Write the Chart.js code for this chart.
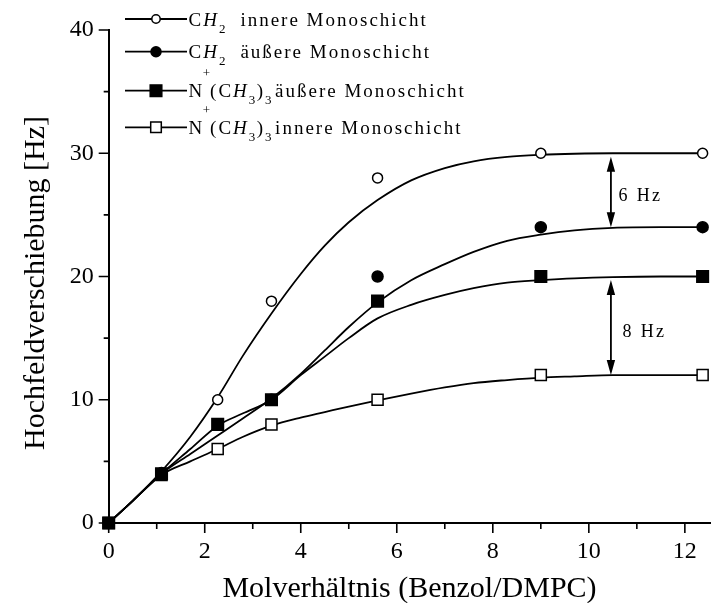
<!DOCTYPE html>
<html>
<head>
<meta charset="utf-8">
<script src="https://cdn.jsdelivr.net/npm/chart.js@4/dist/chart.umd.min.js"></script>
<style>
  html, body { margin: 0; padding: 0; background: #fff; }
  #wrap { width: 720px; height: 603px; }
</style>
</head>
<body>
<div id="wrap"><canvas id="c" width="720" height="603"></canvas></div>
<script>
// Measured shifts (Hz) against the benzene/DMPC molar ratio
const ratioMeasured = [0, 1.1, 2.27, 3.39, 5.6, 9.0, 12.37];
const ch2Inner  = [0, 4.1, 10, 18, 28, 30, 30];
const ch2Outer  = [0, 4.0, null, 10, 20, 24, 24];
const headOuter = [0, 4.0, 8, 10, 18, 20, 20];
const headInner = [0, 3.9, 6, 8, 10, 12, 12];

// Fitted saturation curves
const ratioFit     = [0, 0.5, 1.1, 1.7, 2.27, 2.8, 3.39, 4.0, 4.5, 5.0, 5.6, 6.3, 7.0, 7.6, 8.3, 9.0, 9.7, 10.5, 11.5, 12.37];
const ch2InnerFit  = [0, 1.8, 4.2, 7.0, 10.2, 13.6, 17.0, 20.2, 22.5, 24.4, 26.2, 27.8, 28.8, 29.35, 29.7, 29.87, 29.96, 30, 30, 30];
const ch2OuterFit  = [0, 1.8, 4.0, 5.6, 7.1, 8.5, 10.1, 12.1, 14.0, 15.9, 17.9, 19.7, 21.0, 22.0, 22.9, 23.4, 23.75, 23.95, 24, 24];
const headOuterFit = [0, 1.8, 4.0, 6.0, 7.9, 8.9, 10.0, 12.0, 13.5, 15.0, 16.6, 17.7, 18.5, 19.05, 19.5, 19.7, 19.85, 19.95, 20, 20];
const headInnerFit = [0, 1.8, 3.9, 5.0, 6.0, 7.0, 7.9, 8.55, 9.0, 9.45, 9.95, 10.5, 11.0, 11.35, 11.6, 11.8, 11.9, 12, 12, 12];

// Axis ticks
const xMajorTicks = [0, 2, 4, 6, 8, 10, 12];
const xMinorTicks = [1, 3, 5, 7, 9, 11];
const yMajorTicks = [0, 10, 20, 30, 40];
const yMinorTicks = [5, 15, 25, 35];

// Difference markers between the plateaus
const gapX      = [10.46, 10.46];
const gapFrom   = [30, 20];
const gapTo     = [24, 12];
const gapLabels = ['6 Hz', '8 Hz'];

const SERIF = "'Liberation Serif', 'Times New Roman', Times, serif";

const pts = (xs, ys) => xs.map((x, i) => ({ x, y: ys[i] })).filter(p => p.y !== null);

function pointSet(label, ys, style, radius, filled) {
  return {
    label,
    data: pts(ratioMeasured, ys),
    showLine: false,
    pointStyle: style,
    pointRadius: radius,
    pointHoverRadius: radius,
    pointBorderWidth: 1.5,
    pointBorderColor: '#000',
    pointBackgroundColor: filled ? '#000' : '#fff',
    clip: false
  };
}
function fitSet(label, ys) {
  return {
    label,
    data: pts(ratioFit, ys),
    showLine: true,
    borderColor: '#000',
    borderWidth: 1.8,
    pointRadius: 0,
    cubicInterpolationMode: 'monotone',
    fill: false
  };
}

// Draws text one glyph at a time with extra tracking
function drawTracked(ctx, text, x, y, spacing) {
  for (const ch of text) {
    ctx.fillText(ch, x, y);
    x += ctx.measureText(ch).width + spacing;
  }
  return x;
}

// Rich text runs: {t, it, sub, sup, gap}
function drawRuns(ctx, runs, x, y) {
  const base = 19, small = 13, track = 2;
  for (const r of runs) {
    const size = (r.sub || r.sup) ? small : base;
    ctx.font = (r.it ? 'italic ' : '') + size + 'px ' + SERIF;
    const dy = r.sub ? 7 : (r.sup ? -20 : 0);
    x = drawTracked(ctx, r.t, x, y + dy, r.sub || r.sup ? 0.5 : track);
    if (r.gap) x += r.gap;
  }
}

const legendRows = [
  { marker: 'circle', filled: false, runs: [{ t: 'C' }, { t: 'H', it: true }, { t: '2', sub: true, gap: 1 }, { t: '  innere Monoschicht' }] },
  { marker: 'circle', filled: true,  runs: [{ t: 'C' }, { t: 'H', it: true }, { t: '2', sub: true, gap: 1 }, { t: '  äußere Monoschicht' }] },
  { marker: 'rect',   filled: true,  runs: [{ t: 'N', gap: -1.5 }, { t: '+', sup: true, gap: -0.5 }, { t: '(C' }, { t: 'H', it: true }, { t: '3', sub: true, gap: 1 }, { t: ')' }, { t: '3', sub: true, gap: 3 }, { t: 'äußere Monoschicht' }] },
  { marker: 'rect',   filled: false, runs: [{ t: 'N', gap: -1.5 }, { t: '+', sup: true, gap: -0.5 }, { t: '(C' }, { t: 'H', it: true }, { t: '3', sub: true, gap: 1 }, { t: ')' }, { t: '3', sub: true, gap: 3 }, { t: 'innere Monoschicht' }] }
];
const legendRowY = [19, 51.7, 90.7, 127.3];

const decorations = {
  id: 'decorations',
  afterDraw(chart) {
    const { ctx, chartArea } = chart;
    const xs = chart.scales.x, ys = chart.scales.y;
    ctx.save();
    ctx.strokeStyle = '#000';
    ctx.fillStyle = '#000';

    // tick marks (outward)
    ctx.lineWidth = 1.6;
    ctx.beginPath();
    const bottom = chartArea.bottom, left = chartArea.left;
    xMajorTicks.forEach(v => { const p = xs.getPixelForValue(v); ctx.moveTo(p, bottom); ctx.lineTo(p, bottom + 10); });
    xMinorTicks.forEach(v => { const p = xs.getPixelForValue(v); ctx.moveTo(p, bottom); ctx.lineTo(p, bottom + 6); });
    yMajorTicks.forEach(v => { const p = ys.getPixelForValue(v); ctx.moveTo(left, p); ctx.lineTo(left - 10, p); });
    yMinorTicks.forEach(v => { const p = ys.getPixelForValue(v); ctx.moveTo(left, p); ctx.lineTo(left - 5, p); });
    ctx.stroke();

    // axis titles
    ctx.font = '30px ' + SERIF;
    ctx.textAlign = 'center';
    ctx.textBaseline = 'alphabetic';
    ctx.fillText('Molverhältnis (Benzol/DMPC)', (chartArea.left + chartArea.right) / 2, 596.5);
    ctx.save();
    ctx.translate(43.5, 283);
    ctx.rotate(-Math.PI / 2);
    ctx.fillText('Hochfeldverschiebung [Hz]', 0, 0);
    ctx.restore();

    // double-headed difference arrows
    const labelDx = [7.5, 11.5];
    ctx.textAlign = 'left';
    for (let i = 0; i < gapX.length; i++) {
      const px = xs.getPixelForValue(gapX[i]);
      const yTop = ys.getPixelForValue(gapFrom[i]) + 3.5;
      const yBot = ys.getPixelForValue(gapTo[i]);
      const head = 15, half = 4.2;
      ctx.lineWidth = 1.8;
      ctx.beginPath();
      ctx.moveTo(px, yTop + head - 2);
      ctx.lineTo(px, yBot - head + 2);
      ctx.stroke();
      ctx.beginPath();
      ctx.moveTo(px, yTop); ctx.lineTo(px - half, yTop + head); ctx.lineTo(px + half, yTop + head); ctx.closePath();
      ctx.moveTo(px, yBot); ctx.lineTo(px - half, yBot - head); ctx.lineTo(px + half, yBot - head); ctx.closePath();
      ctx.fill();
      const mid = ys.getPixelForValue((gapFrom[i] + gapTo[i]) / 2);
      ctx.font = '18px ' + SERIF;
      drawTracked(ctx, gapLabels[i], px + labelDx[i], mid + 11, 2.4);
    }

    // legend
    ctx.textAlign = 'left';
    legendRows.forEach((row, i) => {
      const y = legendRowY[i];
      ctx.lineWidth = 1.8;
      ctx.beginPath();
      ctx.moveTo(125, y); ctx.lineTo(187, y);
      ctx.stroke();
      ctx.lineWidth = 1.5;
      ctx.fillStyle = row.filled ? '#000' : '#fff';
      ctx.beginPath();
      if (row.marker === 'circle') {
        ctx.arc(156, y, row.filled ? 5 : 4.2, 0, Math.PI * 2);
      } else {
        const s = row.filled ? 5.8 : 5.3;
        ctx.rect(156 - s, y - s, 2 * s, 2 * s);
      }
      ctx.fill();
      ctx.stroke();
      ctx.fillStyle = '#000';
      drawRuns(ctx, row.runs, 188.5, y + 6.5);
    });
    ctx.restore();
  }
};

new Chart(document.getElementById('c'), {
  type: 'scatter',
  data: {
    datasets: [
      pointSet('N+(CH3)3 äußere Monoschicht', headOuter, 'rect', 8.2, true),
      pointSet('CH2 äußere Monoschicht', ch2Outer, 'circle', 5.5, true),
      pointSet('N+(CH3)3 innere Monoschicht', headInner, 'rect', 7.8, false),
      pointSet('CH2 innere Monoschicht', ch2Inner, 'circle', 5, false),
      fitSet('CH2 innere Fit', ch2InnerFit),
      fitSet('CH2 äußere Fit', ch2OuterFit),
      fitSet('N+(CH3)3 äußere Fit', headOuterFit),
      fitSet('N+(CH3)3 innere Fit', headInnerFit)
    ]
  },
  options: {
    responsive: false,
    animation: false,
    devicePixelRatio: 1,
    layout: { padding: { top: 30, left: 0, right: 0, bottom: 0 } },
    plugins: { legend: { display: false }, tooltip: { enabled: false } },
    scales: {
      x: {
        type: 'linear',
        min: 0,
        max: 12.53,
        grid: { display: false, drawTicks: false, tickLength: 0 },
        border: { display: true, color: '#000', width: 2 },
        ticks: {
          stepSize: 1,
          includeBounds: false,
          autoSkip: false,
          maxRotation: 0,
          padding: 14,
          color: '#000',
          font: { family: SERIF, size: 24 },
          callback: v => xMajorTicks.includes(v) ? String(v) : ''
        },
        afterFit: s => { s.height = 80; }
      },
      y: {
        type: 'linear',
        min: 0,
        max: 40,
        grid: { display: false, drawTicks: false, tickLength: 0 },
        border: { display: true, color: '#000', width: 2 },
        ticks: {
          stepSize: 5,
          includeBounds: false,
          autoSkip: false,
          padding: 15,
          color: '#000',
          font: { family: SERIF, size: 24 },
          callback: v => yMajorTicks.includes(v) ? String(v) : ''
        },
        afterFit: s => { s.width = 108.7; }
      }
    }
  },
  plugins: [decorations]
});
</script>
</body>
</html>
